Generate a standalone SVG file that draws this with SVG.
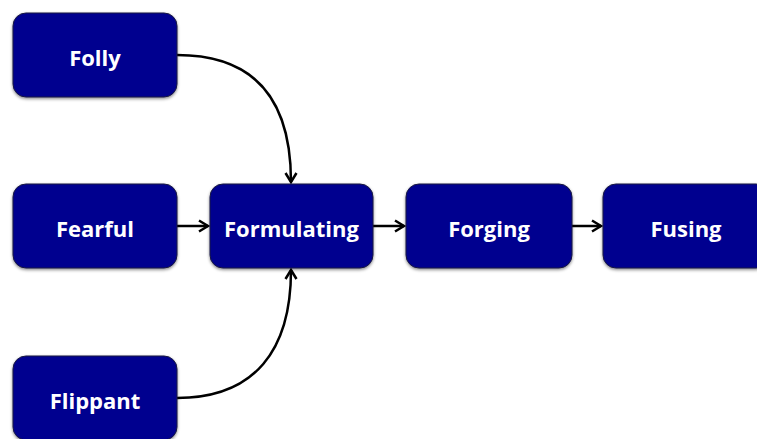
<svg xmlns="http://www.w3.org/2000/svg" width="757" height="439" viewBox="0 0 757 439">
<defs>
<marker id="arr" markerWidth="14" markerHeight="14" refX="11" refY="7" orient="auto" markerUnits="userSpaceOnUse">
<path d="M2,1.5 L11,7 L2,12.5" fill="none" stroke="#000" stroke-width="2.5"/>
</marker>
<filter id="sh" x="-10%" y="-10%" width="120%" height="130%">
<feDropShadow dx="0" dy="1.5" stdDeviation="1.5" flood-color="#000" flood-opacity="0.45"/>
</filter>
</defs>
<style>
.box{fill:#00008f;stroke:#1a1a40;stroke-width:1;filter:url(#sh)}
.lbl{fill:#fff;font-family:"Open Sans","Liberation Sans",sans-serif;font-weight:700;font-size:22px;text-anchor:middle}
.con{fill:none;stroke:#000;stroke-width:2.5;marker-end:url(#arr)}
</style>
<rect width="757" height="439" fill="#fff"/>
<g id="connectors">
<path class="con" d="M177,55 C255,55 291,100 291,182"/>
<path class="con" d="M177,226 L208,226"/>
<path class="con" d="M373,226 L404,226"/>
<path class="con" d="M572,226 L601,226"/>
<path class="con" d="M177,398 C255,398 291,350 291,270"/>
</g>
<g id="folly"><rect class="box" x="13" y="13" width="164" height="84" rx="13"/><text class="lbl" x="95" y="66">Folly</text></g>
<g id="fearful"><rect class="box" x="13" y="184" width="164" height="84" rx="13"/><text class="lbl" x="95" y="237">Fearful</text></g>
<g id="formulating"><rect class="box" x="210" y="184" width="163" height="84" rx="13"/><text class="lbl" x="291.5" y="237">Formulating</text></g>
<g id="forging"><rect class="box" x="406" y="184" width="166" height="84" rx="13"/><text class="lbl" x="489" y="237">Forging</text></g>
<g id="fusing"><rect class="box" x="603" y="184" width="166" height="84" rx="13"/><text class="lbl" x="686" y="237">Fusing</text></g>
<g id="flippant"><rect class="box" x="13" y="356" width="164" height="84" rx="13"/><text class="lbl" x="95" y="409">Flippant</text></g>
</svg>
